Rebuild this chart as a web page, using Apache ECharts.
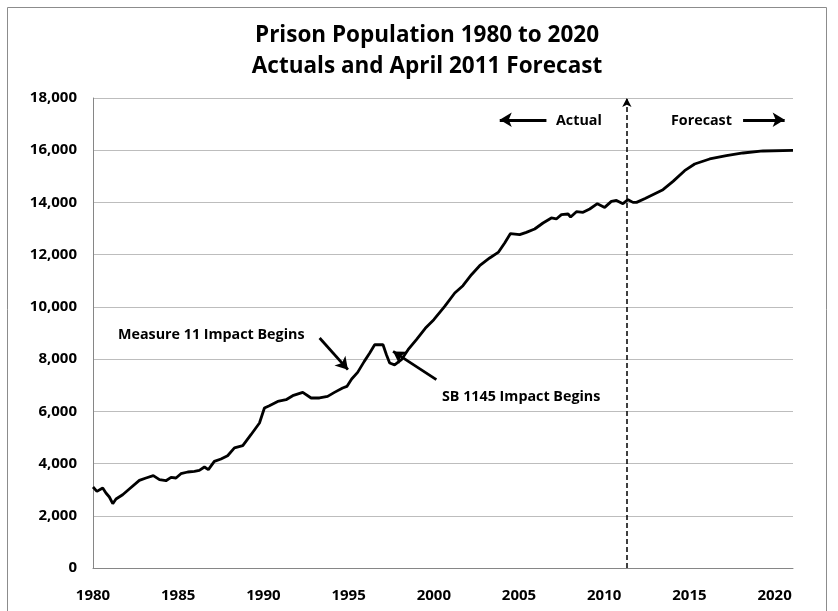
<!DOCTYPE html>
<html>
<head>
<meta charset="utf-8">
<script src="https://cdn.jsdelivr.net/npm/echarts@6/dist/echarts.min.js"></script>
<style>html,body{margin:0;padding:0;background:#fff}#c{width:838px;height:611px}</style>
</head>
<body>
<div id="c"></div>
<script>
var titleLines = ['Prison Population 1980 to 2020', 'Actuals and April 2011 Forecast'];
var years = [1980.0, 1980.23, 1980.57, 1980.76, 1980.96, 1981.16, 1981.35, 1981.74, 1982.13, 1982.72,
  1983.11, 1983.54, 1983.9, 1984.28, 1984.58, 1984.87, 1985.16, 1985.56, 1985.95, 1986.24,
  1986.54, 1986.77, 1987.12, 1987.51, 1987.9, 1988.3, 1988.79, 1989.27, 1989.77, 1990.06,
  1990.35, 1990.84, 1991.33, 1991.72, 1992.31, 1992.8, 1993.29, 1993.77, 1994.17, 1994.65,
  1994.9, 1995.18, 1995.53, 1995.92, 1996.24, 1996.53, 1997.02, 1997.22, 1997.41, 1997.7,
  1998.1, 1998.49, 1998.98, 1999.5, 2000.0, 2000.64, 2001.23, 2001.71, 2002.21, 2002.69,
  2003.28, 2003.8, 2004.16, 2004.5, 2005.04, 2005.43, 2005.92, 2006.41, 2006.9, 2007.19,
  2007.49, 2007.88, 2008.03, 2008.37, 2008.76, 2009.15, 2009.6, 2010.03, 2010.42, 2010.72,
  2011.1, 2011.4, 2011.69, 2011.9, 2012.4, 2013.45, 2014.04, 2014.72, 2015.31, 2016.19,
  2017.17, 2018.15, 2019.32, 2021.08];
var population = [3100, 2935, 3064, 2872, 2719, 2462, 2643, 2807, 3025, 3355,
  3447, 3535, 3382, 3343, 3470, 3447, 3612, 3677, 3700, 3738,
  3868, 3765, 4083, 4175, 4300, 4600, 4684, 5105, 5553, 6128,
  6216, 6381, 6446, 6599, 6726, 6511, 6511, 6572, 6726, 6894,
  6955, 7239, 7491, 7913, 8234, 8550, 8550, 8169, 7851, 7780,
  7977, 8360, 8750, 9180, 9510, 10019, 10532, 10812, 11233, 11578,
  11873, 12100, 12447, 12810, 12765, 12855, 12983, 13213, 13405, 13367,
  13532, 13558, 13443, 13646, 13620, 13749, 13952, 13811, 14041, 14079,
  13952, 14106, 14003, 14003, 14150, 14489, 14806, 15216, 15473, 15664,
  15791, 15894, 15971, 15994];
var forecastStart = 2011.33;
var annotations = [
  {text: 'Measure 11 Impact Begins', from: [1993.30, 8809], to: [1994.96, 7595]},
  {text: 'SB 1145 Impact Begins', from: [2000.15, 7212], to: [1997.61, 8296]},
  {text: 'Actual', from: [2006.61, 17166], to: [2003.87, 17166]},
  {text: 'Forecast', from: [2018.15, 17166], to: [2020.59, 17166]}
];

var FONT = '"Open Sans", Lato, sans-serif';
var chart = echarts.init(document.getElementById('c'), null, {renderer: 'canvas'});
var seriesData = years.map(function (y, i) { return [y, population[i]]; });

var arrowLines = annotations.map(function (a) {
  return [{coord: a.from}, {coord: a.to}];
});

chart.setOption({
  animation: false,
  backgroundColor: '#fff',
  grid: {left: 93, right: 45, top: 98, bottom: 43},
  xAxis: {
    type: 'value', min: 1980, max: 2021.08, interval: 5,
    axisLine: {lineStyle: {color: '#868686', width: 1}},
    axisTick: {show: false},
    splitLine: {show: false},
    axisLabel: {
      margin: 20, color: '#000', fontFamily: FONT, fontWeight: 'bold', fontSize: 15,
      formatter: function (v) { return (Math.abs(v % 5) < 1e-6) ? String(v) : ''; }
    }
  },
  yAxis: {
    type: 'value', min: 0, max: 18000, interval: 2000,
    axisLine: {show: true, lineStyle: {color: '#868686', width: 1}},
    axisTick: {show: false},
    splitLine: {lineStyle: {color: '#bdbdbd', width: 1}},
    axisLabel: {
      margin: 16, color: '#000', fontFamily: FONT, fontWeight: 'bold', fontSize: 15,
      formatter: function (v) { return v.toLocaleString('en-US'); }
    }
  },
  graphic: [
    {type: 'rect', shape: {x: 7.5, y: 7.5, width: 819, height: 640}, style: {fill: 'none', stroke: '#8c8c8c', lineWidth: 1}, silent: true},
    {type: 'text', x: 427, y: 36, style: {text: titleLines[0], fill: '#000', font: 'bold 22.5px ' + FONT, textAlign: 'center', textVerticalAlign: 'middle'}},
    {type: 'text', x: 427, y: 67, style: {text: titleLines[1], fill: '#000', font: 'bold 22.5px ' + FONT, textAlign: 'center', textVerticalAlign: 'middle'}},
    {type: 'text', x: 118, y: 335, style: {text: annotations[0].text, fill: '#000', font: 'bold 14.3px ' + FONT, textAlign: 'left', textVerticalAlign: 'middle'}},
    {type: 'text', x: 442, y: 397, style: {text: annotations[1].text, fill: '#000', font: 'bold 14.3px ' + FONT, textAlign: 'left', textVerticalAlign: 'middle'}},
    {type: 'text', x: 556, y: 121, style: {text: annotations[2].text, fill: '#000', font: 'bold 14.3px ' + FONT, textAlign: 'left', textVerticalAlign: 'middle'}},
    {type: 'text', x: 671, y: 121, style: {text: annotations[3].text, fill: '#000', font: 'bold 14.3px ' + FONT, textAlign: 'left', textVerticalAlign: 'middle'}}
  ],
  series: [
    {
      type: 'line', data: seriesData, showSymbol: false, symbol: 'none',
      lineStyle: {color: '#000', width: 2.8}, clip: false, z: 5
    },
    {
      type: 'line', data: [], showSymbol: false,
      markLine: {
        silent: true, animation: false,
        symbol: ['none', 'arrow'], symbolSize: [7, 9],
        label: {show: false},
        lineStyle: {color: '#000', width: 1.5, type: [5, 3]},
        data: [[{coord: [forecastStart, 0]}, {coord: [forecastStart, 18000]}]]
      }
    },
    {
      type: 'line', data: [], showSymbol: false,
      markLine: {
        silent: true, animation: false,
        symbol: ['none', 'arrow'], symbolSize: [11, 12],
        label: {show: false},
        lineStyle: {color: '#000', width: 2.8, type: 'solid'},
        data: arrowLines
      }
    }
  ]
});
</script>
</body>
</html>
